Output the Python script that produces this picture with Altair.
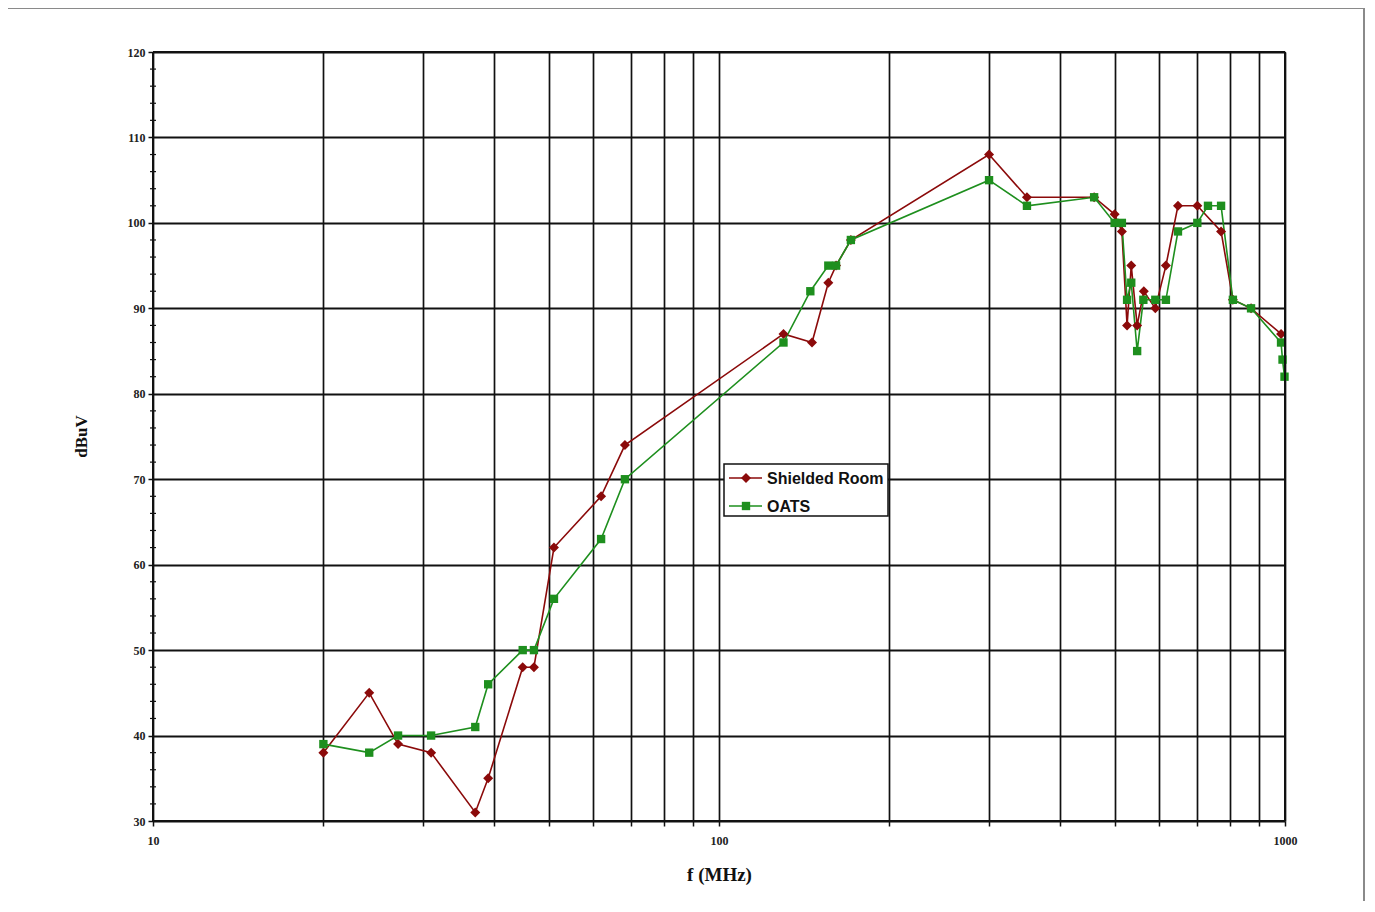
import altair as alt
import pandas as pd

# ---- data ----
freq_shielded = [20, 24.1, 27.1, 31, 37.1, 39.1, 45, 47.1, 51.1, 61.9, 68.2,
                 130, 146, 156, 161, 171, 300, 350, 460, 500, 515,
                 526, 535, 548, 563, 590, 616, 647, 700, 771, 809, 871, 984]
dbuv_shielded = [38, 45, 39, 38, 31, 35, 48, 48, 62, 68, 74,
                 87, 86, 93, 95, 98, 108, 103, 103, 101, 99,
                 88, 95, 88, 92, 90, 95, 102, 102, 99, 91, 90, 87]

freq_oats = [20, 24.1, 27.1, 31, 37.1, 39.1, 45, 47.1, 51.1, 61.9, 68.2,
             130, 145, 156, 161, 171, 300, 350, 460, 500, 515,
             526, 535, 548, 562, 590, 616, 647, 700, 731, 771, 809, 871, 984, 990, 998]
dbuv_oats = [39, 38, 40, 40, 41, 46, 50, 50, 56, 63, 70,
             86, 92, 95, 95, 98, 105, 102, 103, 100, 100,
             91, 93, 85, 91, 91, 91, 99, 100, 102, 102, 91, 90, 86, 84, 82]

series_names = ["Shielded Room", "OATS"]
series_colors = ["#8b0a0a", "#1e8f1e"]
series_shapes = ["diamond", "square"]
series_sizes = [100, 70]

x_grid_values = [10, 20, 30, 40, 50, 60, 70, 80, 90,
                 100, 200, 300, 400, 500, 600, 700, 800, 900, 1000]
y_major = [30, 40, 50, 60, 70, 80, 90, 100, 110, 120]
y_minor = [v for v in range(30, 121, 2) if v % 10 != 0]

W, H = 1132, 769

df = pd.concat([
    pd.DataFrame({"f": freq_shielded, "v": dbuv_shielded, "s": series_names[0], "k": 0}),
    pd.DataFrame({"f": freq_oats, "v": dbuv_oats, "s": series_names[1], "k": 1}),
])

serif = "Liberation Serif"
sans = "Liberation Sans"

xscale = alt.Scale(type="log", domain=[10, 1000], nice=False)
yscale = alt.Scale(domain=[30, 120], nice=False, zero=False)
cscale = alt.Scale(domain=series_names, range=series_colors)
sscale = alt.Scale(domain=series_names, range=series_shapes)
zscale = alt.Scale(domain=series_names, range=series_sizes)

xaxis = alt.Axis(values=x_grid_values, title="f (MHz)",
                 labelExpr="(datum.value == 10 || datum.value == 100 || datum.value == 1000) ? datum.label : ''",
                 format="d", grid=True, gridColor="#111", gridWidth=1.7, gridOpacity=1,
                 domain=False, tickColor="#111", tickSize=5, tickWidth=1.5,
                 labelFont=serif, labelFontWeight="bold", labelFontSize=12, labelColor="#222",
                 labelPadding=9, labelFlush=False, labelOverlap=False,
                 titleFont=serif, titleFontWeight="bold", titleFontSize=19, titleColor="#111",
                 titleX=566, titleY=44)
yaxis = alt.Axis(values=y_major, title="dBuV",
                 grid=True, gridColor="#111", gridWidth=2, gridOpacity=1,
                 domain=False, tickColor="#111", tickSize=5, tickWidth=1.5,
                 labelFont=serif, labelFontWeight="bold", labelFontSize=12, labelColor="#222",
                 labelPadding=3,
                 titleFont=serif, titleFontWeight="bold", titleFontSize=17, titleColor="#111",
                 titleX=-63, titleY=384)

base = alt.Chart(df)

lines = base.mark_line(strokeWidth=1.6, clip=False).encode(
    x=alt.X("f:Q", scale=xscale, axis=xaxis),
    y=alt.Y("v:Q", scale=yscale, axis=yaxis),
    color=alt.Color("s:N", scale=cscale, legend=None),
    detail="s:N",
    order="f:Q",
)

points = base.mark_point(filled=True, opacity=1).encode(
    x=alt.X("f:Q", scale=xscale),
    y=alt.Y("v:Q", scale=yscale),
    color=alt.Color("s:N", scale=cscale, legend=None),
    shape=alt.Shape("s:N", scale=sscale, legend=None),
    size=alt.Size("s:N", scale=zscale, legend=None),
    order=alt.Order("k:Q"),
)

minor = alt.Chart(pd.DataFrame({"m": y_minor})).mark_rule(color="#111", strokeWidth=1.2).encode(
    y=alt.Y("m:Q", scale=yscale),
    x=alt.value(-3), x2=alt.value(3),
)

# plot frame (left, right, top, bottom)
frame = [
    alt.Chart(pd.DataFrame({"a": [0]})).mark_rule(color="#111", strokeWidth=2).encode(
        x=alt.value(x0), x2=alt.value(x1), y=alt.value(y0), y2=alt.value(y1))
    for (x0, x1, y0, y1) in [(0, 0, 0, H), (W, W, 0, H), (0, W, 0, 0), (0, W, H, H)]
]

# outer grey picture border
border = [
    alt.Chart(pd.DataFrame({"a": [0]})).mark_rule(color="#8a8a8a", strokeWidth=2).encode(
        x=alt.value(x0), x2=alt.value(x1), y=alt.value(y0), y2=alt.value(y1))
    for (x0, x1, y0, y1) in [(-146, -146, -44, H + 95), (W + 79, W + 79, -44, H + 95), (-146, W + 79, -44, -44)]
]

# legend box
lg_x0, lg_x1, lg_y0, lg_y1 = 571, 735, 412, 464
legend_parts = [
    alt.Chart(pd.DataFrame({"a": [0]})).mark_rect(fill="white", stroke="#111", strokeWidth=1.5).encode(
        x=alt.value(lg_x0), x2=alt.value(lg_x1), y=alt.value(lg_y0), y2=alt.value(lg_y1))
]
for i, name in enumerate(series_names):
    yy = 426 + i * 28
    legend_parts.append(
        alt.Chart(pd.DataFrame({"a": [0]})).mark_rule(color=series_colors[i], strokeWidth=1.6).encode(
            x=alt.value(576), x2=alt.value(609), y=alt.value(yy)))
    legend_parts.append(
        alt.Chart(pd.DataFrame({"a": [0]})).mark_point(
            filled=True, shape=series_shapes[i], size=series_sizes[i], color=series_colors[i], opacity=1).encode(
            x=alt.value(593), y=alt.value(yy)))
    legend_parts.append(
        alt.Chart(pd.DataFrame({"t": [name]})).mark_text(
            align="left", baseline="middle", font=sans, fontWeight="bold", fontSize=16, color="#111").encode(
            x=alt.value(614), y=alt.value(yy + 1), text="t:N"))

chart = alt.layer(lines, points, minor, *frame, *border, *legend_parts).properties(
    width=W, height=H,
    padding={"left": 145, "top": 44, "right": 80, "bottom": 80},
    autosize=alt.AutoSizeParams(type="none"),
    background="white",
).configure_view(stroke=None)

chart.save("out.html", embed_options={"renderer": "svg", "actions": False})
